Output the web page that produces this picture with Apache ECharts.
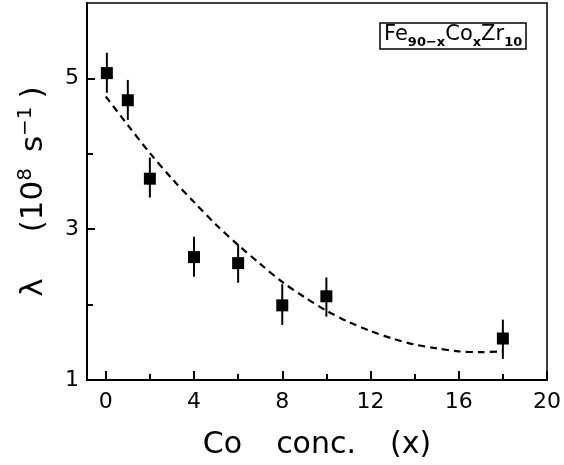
<!DOCTYPE html>
<html>
<head>
<meta charset="utf-8">
<script src="https://cdn.jsdelivr.net/npm/echarts@6/dist/echarts.min.js"></script>
<style>
  html, body { margin: 0; padding: 0; background: #fff; }
  #chart { width: 564px; height: 465px; }
</style>
</head>
<body>
<div id="chart"></div>
<script>
// measured points (Co concentration x, relaxation rate lambda in 1e8 s^-1)
const coConc = [0.05, 1, 2, 4, 6, 8, 10, 18];
const lambda = [5.07, 4.71, 3.67, 2.63, 2.55, 1.99, 2.11, 1.55];
const errLow = [4.81, 4.45, 3.42, 2.37, 2.29, 1.73, 1.84, 1.28];
const errHigh = [5.34, 4.98, 3.95, 2.90, 2.80, 2.27, 2.36, 1.80];

// dashed guide curve
const fitX = [0, 1, 2, 3, 4, 5, 6, 7, 8, 9, 10, 11, 12, 13, 14, 15, 16, 17, 18];
const fitY = [4.76, 4.38, 4.01, 3.67, 3.36, 3.06, 2.79, 2.54, 2.30, 2.10, 1.92, 1.77, 1.65, 1.55, 1.47, 1.42, 1.38, 1.37, 1.38];

// ticks and labels
const xMajor = [0, 4, 8, 12, 16, 20];
const xMinor = [2, 6, 10, 14, 18];
const yMajor = [1, 3, 5];
const yMinor = [2, 4];

const FONT = 'DejaVu Sans';

const chart = echarts.init(document.getElementById('chart'));

const option = {
    animation: false,
    title: {
        text: '{m|Fe}{s|90−x}{m|Co}{s|x}{m|Zr}{s|10}',
        left: 380,
        top: 23,
        padding: [1, 4, 0, 4],
        borderColor: '#000',
        borderWidth: 1.5,
        textStyle: {
            fontWeight: 'normal',
            rich: {
                m: { fontFamily: FONT, fontSize: 21, fontWeight: 'normal', color: '#000', lineHeight: 22, verticalAlign: 'top' },
                s: { fontFamily: FONT, fontSize: 13, fontWeight: 'bold', color: '#000', lineHeight: 12, padding: [12, 0, 0, 0], verticalAlign: 'top' }
            }
        }
    },
    grid: {
        left: 87,
        right: 16,
        top: 3,
        bottom: 82,
        show: true,
        borderColor: '#000',
        borderWidth: 1.5
    },
    xAxis: [{
        type: 'value',
        min: -0.85,
        max: 20,
        name: '{a|Co}{g|}{a|conc.}{g|}{a|(x)}',
        nameLocation: 'middle',
        nameGap: 50,
        nameTextStyle: {
            rich: {
                a: { fontFamily: FONT, fontSize: 30, color: '#000' },
                g: { width: 34 }
            }
        },
        axisLine: { show: true, onZero: false, lineStyle: { color: '#000', width: 2 } },
        axisTick: { show: true, inside: true, length: 9, lineStyle: { color: '#000', width: 2 }, customValues: xMajor },
        axisLabel: { fontFamily: FONT, fontSize: 22, color: '#000', margin: 11, customValues: xMajor },
        splitLine: { show: false }
    }, {
        type: 'value',
        min: -0.85,
        max: 20,
        position: 'bottom',
        axisLine: { show: false, onZero: false },
        axisTick: { show: true, inside: true, length: 6, lineStyle: { color: '#000', width: 2 }, customValues: xMinor },
        axisLabel: { show: false },
        splitLine: { show: false }
    }],
    yAxis: [{
        type: 'value',
        min: 1,
        max: 6,
        name: '{a|λ}{g1|}{a|(10}{sup|8}{g2|}{a|s}{sup|−1}{g3|}{a|)}',
        nameLocation: 'middle',
        nameRotate: 90,
        nameGap: 35,
        nameTextStyle: {
            rich: {
                a: { fontFamily: FONT, fontSize: 31, color: '#000', lineHeight: 36 },
                sup: { fontFamily: FONT, fontSize: 20, color: '#000', lineHeight: 20, verticalAlign: 'top' },
                g1: { width: 46 },
                g2: { width: 16 },
                g3: { width: 8 }
            }
        },
        axisLine: { show: true, onZero: false, lineStyle: { color: '#000', width: 2 } },
        axisTick: { show: true, inside: true, length: 8, lineStyle: { color: '#000', width: 2 }, customValues: yMajor },
        axisLabel: { fontFamily: FONT, fontSize: 22, color: '#000', margin: 8, customValues: yMajor },
        splitLine: { show: false }
    }, {
        type: 'value',
        min: 1,
        max: 6,
        position: 'left',
        axisLine: { show: false, onZero: false },
        axisTick: { show: true, inside: true, length: 6, lineStyle: { color: '#000', width: 2 }, customValues: yMinor },
        axisLabel: { show: false },
        splitLine: { show: false }
    }],
    series: [{
        name: 'fit',
        type: 'line',
        data: fitX.map((x, i) => [x, fitY[i]]),
        smooth: 0.3,
        symbol: 'none',
        lineStyle: { color: '#000', width: 2.2, type: [7, 5] },
        z: 2
    }, {
        name: 'errors',
        type: 'custom',
        data: coConc.map((x, i) => [x, errLow[i], errHigh[i]]),
        renderItem: (params, api) => {
            const x = api.value(0);
            const lo = api.coord([x, api.value(1)]);
            const hi = api.coord([x, api.value(2)]);
            return {
                type: 'line',
                shape: { x1: lo[0], y1: lo[1], x2: hi[0], y2: hi[1] },
                style: { stroke: '#000', lineWidth: 2 }
            };
        },
        z: 3
    }, {
        name: 'lambda',
        type: 'scatter',
        data: coConc.map((x, i) => [x, lambda[i]]),
        symbol: 'rect',
        symbolSize: 12,
        itemStyle: { color: '#000', opacity: 1 },
        z: 4
    }]
};

chart.setOption(option);
</script>
</body>
</html>
